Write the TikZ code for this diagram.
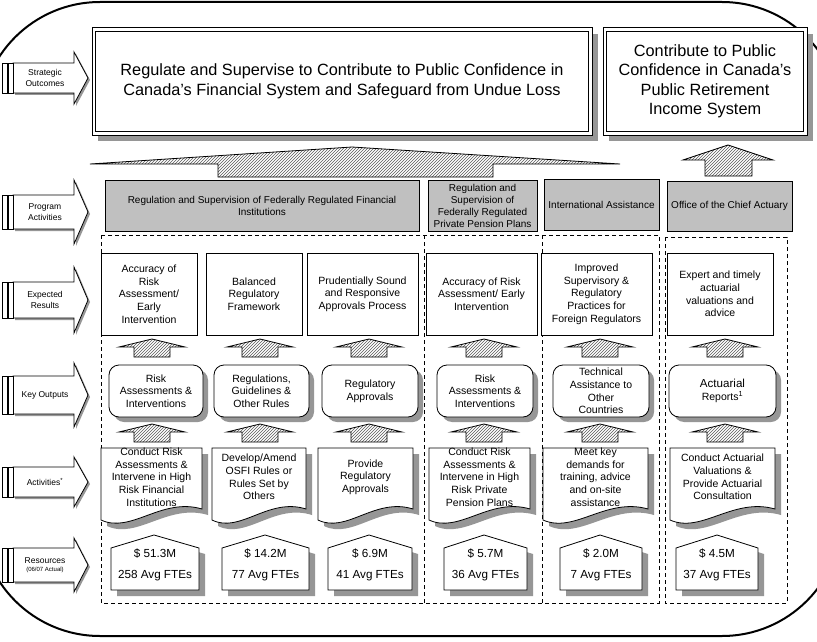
\documentclass[tikz,border=0pt]{standalone}
\usepackage{fontspec}
\setmainfont{Liberation Sans}
\usetikzlibrary{patterns}
\definecolor{shd}{RGB}{150,150,150}
\definecolor{pagrey}{RGB}{192,192,192}
\definecolor{hatchc}{RGB}{90,90,90}
\newcommand\fs[2]{\fontsize{#1}{#2}\selectfont}
\tikzset{
  lbl/.style={font=\fs{8.5}{10.5}, align=center, inner sep=0pt},
  sobox/.style={draw, fill=white, line width=1pt, font=\fs{16.3}{19.5}, align=center, inner sep=0pt},
  soinner/.style={draw, line width=0.9pt},
  pabox/.style={draw, fill=pagrey, align=center, font=\fs{10}{12}, inner sep=0pt},
  erbox/.style={draw, fill=white, align=center, font=\fs{10.5}{12.7}, inner sep=0pt},
  kobox/.style={draw, fill=white, rounded corners=10pt, align=center, font=\fs{10.5}{12.7}, inner sep=0pt},
  txt/.style={align=center, font=\fs{10.5}{12.7}, inner sep=0pt},
  restxt/.style={align=center, font=\fs{11.7}{21}, inner sep=0pt},
  hatch/.style={draw, pattern=north east lines, pattern color=hatchc},
  dashframe/.style={dash pattern=on 4pt off 3pt, line width=0.8pt},
}
% label arrow: name, yc, body half, head half, text
\newcommand\labelarrow[5]{%
  \fill[shd] (15,#2-#3+2) -- (76,#2-#3+2) -- (76,#2-#4+2) -- (90,#2+2) -- (76,#2+#4+2) -- (76,#2+#3+2) -- (15,#2+#3+2) -- cycle;
  \draw[fill=white] (13,#2-#3) -- (74,#2-#3) -- (74,#2-#4) -- (88,#2) -- (74,#2+#4) -- (74,#2+#3) -- (13,#2+#3) -- cycle;
  \draw[fill=white] (2.5,#2-#3) rectangle (7.5,#2+#3);
  \draw[fill=white] (8.5,#2-#3) rectangle (13,#2+#3);
  \node[lbl] (#1) at (45,#2) {#5};
}
% small hatched up arrow: xc, ytip
\newcommand\smallup[2]{%
  \draw[hatch] (#1-33,#2+8) -- (#1,#2) -- (#1+33,#2+8) -- (#1+18,#2+8) -- (#1+18,#2+18) -- (#1-18,#2+18) -- (#1-18,#2+8) -- cycle;
}
% expected result box: name, x1, x2, text
\newcommand\erb[4]{%
  \node[erbox, minimum width={#3-#2}, minimum height=82] (#1) at ({(#2+#3)/2},294) {#4};
}
% key output box: name, x1, x2, text
\newcommand\kob[4]{%
  \fill[shd, rounded corners=10pt] (#2+5,370) rectangle (#3+5,422);
  \node[kobox, minimum width={#3-#2}, minimum height=52] (#1) at ({(#2+#3)/2},391) {#4};
}
% document shape: name, x1, x2, text
\newcommand\docshape[4]{%
  \pgfmathsetmacro\docw{#3-#2}
  \begin{scope}[shift={(#2,448)}]
    \fill[shd] (6,6) -- (\docw+6,6) -- (\docw+6,67) .. controls (0.6*\docw+6,55) and (0.3*\docw+6,92) .. (6,78) -- cycle;
    \draw[fill=white] (0,0) -- (\docw,0) -- (\docw,61) .. controls (0.6*\docw,49) and (0.3*\docw,86) .. (0,72) -- cycle;
  \end{scope}
  \node[txt] (#1) at ({(#2+#3)/2},477) {#4};
}
% resources house: name, x1, x2, xpeak, money, ftes
\newcommand\house[6]{%
  \fill[shd] (#2+6,554) -- (#4+6,541) -- (#3+6,554) -- (#3+6,596) -- (#2+6,596) -- cycle;
  \draw[fill=white] (#2,548) -- (#4,535) -- (#3,548) -- (#3,590) -- (#2,590) -- cycle;
  \node[restxt] (#1) at ({(#2+#3)/2},565) {\$ #5\\#6 Avg FTEs};
}
\begin{document}
\begin{tikzpicture}[x=1pt,y=-1pt, line width=0.8pt]
\useasboundingbox (0,0) rectangle (817,642);
\fill[white] (0,0) rectangle (817,642);
% outer frame
\draw[line width=2pt, rounded corners=120pt] (-20,2) rectangle (842,636);

% row labels
\labelarrow{lso}{78}{15}{26}{Strategic\\Outcomes}
\labelarrow{lpa}{212}{17}{32}{Program\\Activities}
\labelarrow{ler}{300}{18}{33}{Expected\\Results}
\labelarrow{lko}{395}{19}{32}{Key Outputs}
\labelarrow{lac}{482}{15}{25}{Activities\textsuperscript{*}}
\labelarrow{lre}{565}{17}{27}{Resources\\[-2pt]{\fs{6}{7}(06/07 Actual)}}

% strategic outcomes
\fill[shd] (98,34) rectangle (598,141);
\node[sobox, minimum width=500, minimum height=107] (so1) at (342,81.5)
  {Regulate and Supervise to Contribute to Public Confidence in\\Canada's Financial System and Safeguard from Undue Loss};
\draw[soinner] (95.5,31.5) rectangle (588.5,131.5);
\fill[shd] (609,34) rectangle (813,141);
\node[sobox, minimum width=204, minimum height=107] (so2) at (705,81.5)
  {Contribute to Public\\Confidence in Canada's\\Public Retirement\\Income System};
\draw[soinner] (606.5,31.5) rectangle (803.5,131.5);

% big hatched arrows
\draw[hatch] (90,164) -- (352,147) -- (620,164) -- (493,164) -- (493,177) -- (218,177) -- (218,164) -- cycle;
\draw[hatch] (683,160) -- (728,145) -- (773,160) -- (752,160) -- (752,176) -- (705,176) -- (705,160) -- cycle;

% program activities
\node[pabox, minimum width=314, minimum height=51] (pa1) at (262,205.5)
  {Regulation and Supervision of Federally Regulated Financial\\Institutions};
\node[pabox, minimum width=109, minimum height=51] (pa2) at (482.5,205.5)
  {Regulation and\\Supervision of\\Federally Regulated\\Private Pension Plans};
\node[pabox, minimum width=115, minimum height=51] (pa3) at (601.5,204.5)
  {International Assistance};
\node[pabox, minimum width=125, minimum height=50] (pa4) at (729.5,206)
  {Office of the Chief Actuary};

% dashed frames
\draw[dashframe] (101,235) rectangle (659,603);
\draw[dashframe] (424,235) -- (424,605);
\draw[dashframe] (542,235) -- (542,605);
\draw[dashframe] (665,237) rectangle (787,603);

% expected results
\erb{er1}{101}{197}{Accuracy of\\Risk\\Assessment/\\Early\\Intervention}
\erb{er2}{206}{302}{Balanced\\Regulatory\\Framework}
\erb{er3}{307}{418}{Prudentially Sound\\and Responsive\\Approvals Process}
\erb{er4}{426}{537}{Accuracy of Risk\\Assessment/ Early\\Intervention}
\erb{er5}{541}{652}{Improved\\Supervisory \&\\Regulatory\\Practices for\\Foreign Regulators}
\erb{er6}{667}{773}{Expert and timely\\actuarial\\valuations and\\advice}

% arrows KO -> ER
\smallup{152}{339}
\smallup{260}{339}
\smallup{369}{339}
\smallup{484}{339}
\smallup{600}{339}
\smallup{725}{339}

% key outputs
\kob{ko1}{109}{203}{Risk\\Assessments \&\\Interventions}
\kob{ko2}{214}{309}{Regulations,\\Guidelines \&\\Other Rules}
\kob{ko3}{322}{418}{Regulatory\\Approvals}
\kob{ko4}{437}{533}{Risk\\Assessments \&\\Interventions}
\kob{ko5}{553}{649}{Technical\\Assistance to\\Other\\Countries}
\kob{ko6}{669}{776}{\fs{11.6}{15}Actuarial\\Reports\textsuperscript{1}}

% arrows A -> KO
\smallup{152}{424}
\smallup{260}{424}
\smallup{369}{424}
\smallup{484}{424}
\smallup{600}{424}
\smallup{725}{424}

% activities
\docshape{ac1}{101}{202}{Conduct Risk\\Assessments \&\\Intervene in High\\Risk Financial\\Institutions}
\docshape{ac2}{212}{306}{Develop/Amend\\OSFI Rules or\\Rules Set by\\Others}
\docshape{ac3}{318}{413}{Provide\\Regulatory\\Approvals}
\docshape{ac4}{429}{530}{Conduct Risk\\Assessments \&\\Intervene in High\\Risk Private\\Pension Plans}
\docshape{ac5}{543}{648}{Meet key\\demands for\\training, advice\\and on-site\\assistance}
\docshape{ac6}{670}{775}{Conduct Actuarial\\Valuations \&\\Provide Actuarial\\Consultation}

% resources
\house{re1}{111}{199}{154}{51.3M}{258}
\house{re2}{222}{309}{265}{14.2M}{77}
\house{re3}{328}{412}{369}{6.9M}{41}
\house{re4}{444}{527}{484}{5.7M}{36}
\house{re5}{560}{642}{600}{2.0M}{7}
\house{re6}{676}{758}{717}{4.5M}{37}
\end{tikzpicture}
\end{document}
